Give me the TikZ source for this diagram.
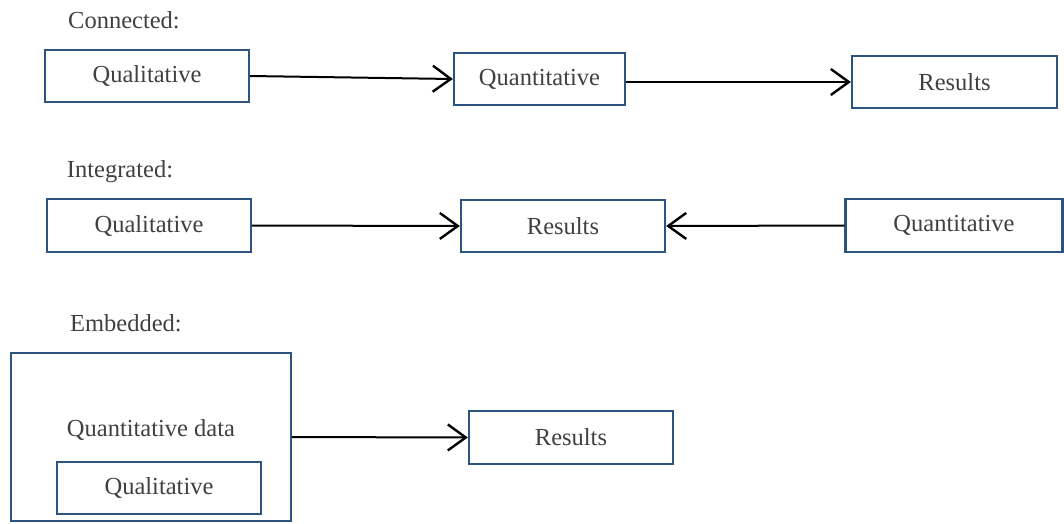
\documentclass[tikz,border=0pt]{standalone}
\usepackage{fontspec}
\setmainfont{Liberation Serif}
\newfontfamily\tms{Liberation Serif}
\usetikzlibrary{arrows.meta}
\definecolor{boxblue}{RGB}{44,84,128}
\definecolor{txt}{RGB}{64,64,64}
\tikzset{
  box/.style={draw=boxblue, line width=2.3pt, rectangle, inner sep=0pt, text=txt,
    font=\tms\fontsize{24.5}{29}\selectfont},
  lbl/.style={text=txt, inner sep=0pt, font=\tms\fontsize{24.5}{29}\selectfont},
  arr/.style={line width=2pt, -{Straight Barb[length=18pt,width=26pt,line width=2.4pt]}}
}
\begin{document}
\begin{tikzpicture}[x=1pt,y=-1pt]
\useasboundingbox (0,0) rectangle (1064,523);
% Connected
\node[lbl] (lc) at (124,20) {Connected:};
\node[box, minimum width=204pt, minimum height=52pt] (cq1) at (147,76) {Qualitative};
\node[box, minimum width=171pt, minimum height=52pt] (cq2) at (539.5,79) {Quantitative};
\node[box, minimum width=205pt, minimum height=52pt] (cr) at (954.5,82) {Results};
\draw[arr] (cq1.east) -- (cq2.west);
\draw[arr] (cq2.east |- cr.west) -- (cr.west);
% Integrated
\node[lbl] (li) at (120,172) {Integrated:};
\node[box, minimum width=204pt, minimum height=53pt] (iq1) at (149,225.5) {Qualitative};
\node[box, minimum width=204pt, minimum height=52pt] (ir) at (563,226) {Results};
\node[box, minimum width=217pt, minimum height=53pt] (iq2) at (954,225.5) {Quantitative};
\draw[arr] (iq1.east) -- (ir.west);
\draw[arr] (iq2.west) -- (ir.east);
% Embedded
\node[lbl] (le) at (126,323) {Embedded:};
\node[draw=boxblue, line width=2.3pt, rectangle, inner sep=0pt, minimum width=280pt, minimum height=168pt] (eb) at (151,437) {};
\node[lbl] (eqd) at (151,430) {Quantitative data};
\node[box, minimum width=204pt, minimum height=52pt] (eq) at (159,488) {Qualitative};
\node[box, minimum width=204pt, minimum height=53pt] (er) at (571,437.5) {Results};
\draw[arr] (eb.east) -- (er.west);
\end{tikzpicture}
\end{document}
